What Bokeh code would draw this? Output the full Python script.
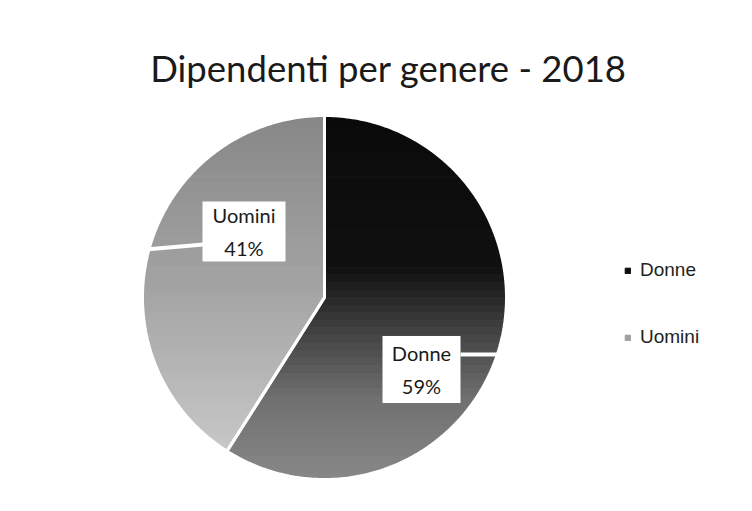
import numpy as np
from bokeh.plotting import figure
from bokeh.models import Range1d, ColumnDataSource, Label, Legend, LegendItem
from bokeh.core.properties import value
from bokeh.embed import file_html
from bokeh.resources import INLINE

# ---- data ----
title_text = "Dipendenti per genere - 2018"
categories = ["Donne", "Uomini"]
shares = [59, 41]

# ---- layout / style ----
W, H = 752, 511
CX, CY, R = 324, 511 - 297, 182
N_BANDS = 48
# vertical gradient stops (t: 0 top -> 1 bottom) per slice
grad = {
    "Donne": [(0.0, 10), (0.42, 16), (0.58, 62), (0.78, 112), (1.0, 135)],
    "Uomini": [(0.0, 135), (0.45, 162), (1.0, 205)],
}
label_pos = {"Donne": (421, 511 - 369), "Uomini": (243.5, 511 - 231)}
box_size = {"Donne": (78, 67), "Uomini": (83, 60)}
leaders = {"Donne": ([460, 503], [511 - 354, 511 - 354]),
           "Uomini": ([203, 145], [511 - 244, 511 - 249])}

p = figure(width=W, height=H, x_range=Range1d(0, W), y_range=Range1d(0, H),
           output_backend="svg", toolbar_location=None, min_border=0,
           x_axis_location=None, y_axis_location=None)
p.grid.visible = False
p.outline_line_color = None
p.background_fill_color = "white"
p.border_fill_color = "white"


def grey(stops, t):
    ts = [s[0] for s in stops]
    vs = [s[1] for s in stops]
    v = int(round(np.interp(t, ts, vs)))
    return "#%02x%02x%02x" % (v, v, v)


def clip(pts, keep, y0):
    out = []
    for i in range(len(pts)):
        cur, prev = pts[i], pts[i - 1]
        cin, pin = keep(cur), keep(prev)
        if cin != pin:
            tt = (y0 - prev[1]) / (cur[1] - prev[1])
            out.append((prev[0] + tt * (cur[0] - prev[0]), y0))
        if cin:
            out.append(cur)
    return out


total = float(sum(shares))
start = np.pi / 2
sectors = {}
for cat, sh in zip(categories, shares):
    end = start - 2 * np.pi * sh / total
    ang = np.linspace(start, end, 240)
    pts = [(CX, CY)] + [(CX + R * np.cos(a), CY + R * np.sin(a)) for a in ang]
    sectors[cat] = pts
    start = end

edges = np.linspace(CY + R, CY - R, N_BANDS + 1)
renderers = {}
for cat in categories:
    xs, ys, cols = [], [], []
    for i in range(N_BANDS):
        ytop, ybot = edges[i], edges[i + 1]
        poly = clip(sectors[cat], lambda q, y=ytop: q[1] <= y, ytop)
        if len(poly) < 3:
            continue
        poly = clip(poly, lambda q, y=ybot: q[1] >= y, ybot)
        if len(poly) < 3:
            continue
        xs.append([q[0] for q in poly])
        ys.append([q[1] for q in poly])
        cols.append(grey(grad[cat], (i + 0.5) / N_BANDS))
    src = ColumnDataSource(dict(xs=xs, ys=ys, color=cols))
    renderers[cat] = p.patches("xs", "ys", source=src, fill_color="color",
                               line_color="color", line_width=1)

# white separation between slices
for cat in categories:
    pts = sectors[cat]
    p.patch([q[0] for q in pts], [q[1] for q in pts], fill_alpha=0,
            line_color="white", line_width=3)

# leader lines and data labels
for cat, sh in zip(categories, shares):
    lx, ly = leaders[cat]
    p.line(lx, ly, line_color="white", line_width=4)
    x, y = label_pos[cat]
    w, h = box_size[cat]
    p.rect(x, y, w, h, fill_color="white", line_color=None)
    p.text([x], [y], text=[f"{cat}\n{sh}%"], text_align="center",
           text_baseline="middle", text_font=value("Lato"),
           text_font_size="20px", text_color="#1a1a1a", text_line_height=1.4)

# title
p.add_layout(Label(x=388, y=511 - 67, text=title_text, text_align="center",
                   text_baseline="alphabetic", text_font="Lato",
                   text_font_size="36.5px", text_color="#1a1a1a"))

# legend
items = [LegendItem(label=categories[0], renderers=[renderers["Donne"]], index=4),
         LegendItem(label=categories[1], renderers=[renderers["Uomini"]], index=20)]
legend = Legend(items=items, location=(624, 163), padding=0, margin=0,
                spacing=45, glyph_width=7, glyph_height=7, label_height=20,
                label_standoff=9, border_line_alpha=0, background_fill_alpha=0,
                label_text_font="Liberation Sans", label_text_font_size="19px",
                label_text_color="#222222")
p.add_layout(legend, "center")

open("out.html", "w").write(file_html(p, INLINE))
